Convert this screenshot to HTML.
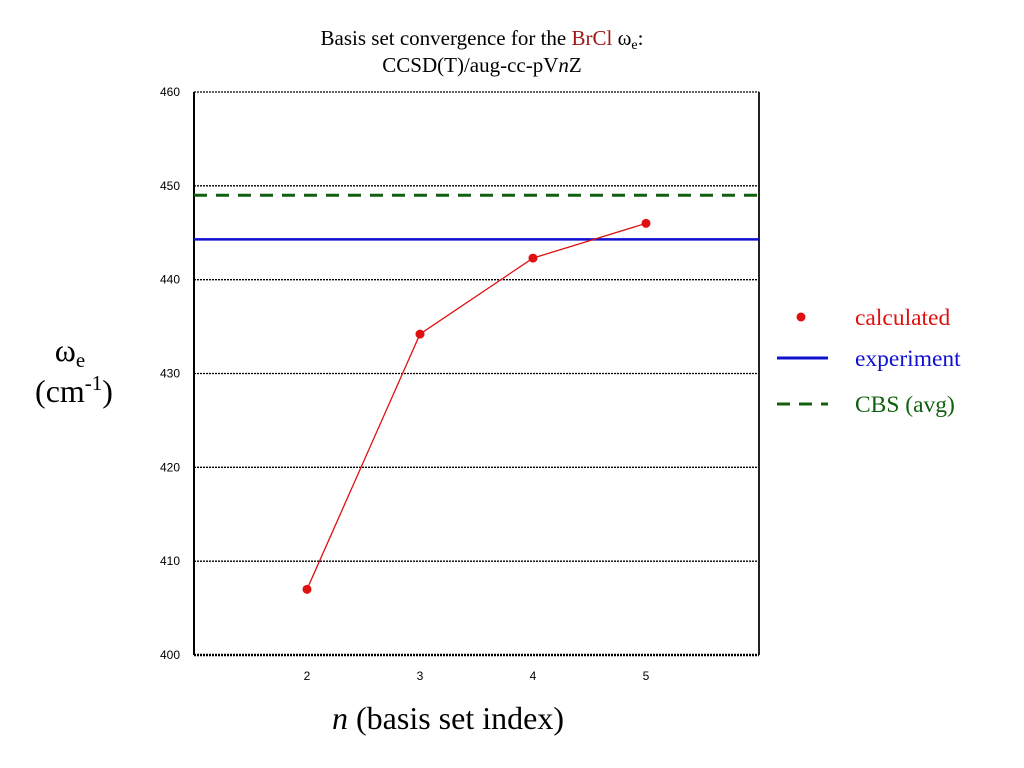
<!DOCTYPE html>
<html><head><meta charset="utf-8"><style>
body{margin:0;background:#fff;}
svg{display:block;}
</style></head><body>
<svg width="1024" height="768" xmlns="http://www.w3.org/2000/svg">
<g id="grid"></g>
<line x1="194" y1="92" x2="194" y2="655" stroke="#000" stroke-width="2"/>
<line x1="759" y1="92" x2="759" y2="655" stroke="#222" stroke-width="2"/>
<g id="yticks" font-family="Liberation Sans, sans-serif" font-size="12" text-anchor="end"></g>
<g id="xticks" font-family="Liberation Sans, sans-serif" font-size="12" text-anchor="middle"></g>
<g id="series"></g>
<g font-family="Liberation Serif, serif">
<text x="482" y="45" font-size="21" text-anchor="middle">Basis set convergence for the <tspan fill="#a01818">BrCl</tspan> ω<tspan font-size="14" dy="4">e</tspan><tspan dy="-4">:</tspan></text>
<text x="482" y="72" font-size="21" text-anchor="middle">CCSD(T)/aug-cc-pV<tspan font-style="italic">n</tspan>Z</text>
<text x="448" y="729" font-size="32" text-anchor="middle"><tspan font-style="italic">n</tspan> (basis set index)</text>
<text x="70" y="361" font-size="32" text-anchor="middle">ω<tspan font-size="21" dy="6">e</tspan></text>
<text x="74" y="402" font-size="32" text-anchor="middle">(cm<tspan font-size="21" dy="-12">-1</tspan><tspan dy="12">)</tspan></text>
</g>
<g font-family="Liberation Serif, serif" font-size="23.5">
<circle cx="801" cy="317" r="4.5" fill="#e01010"/>
<text x="855" y="325" fill="#e01010">calculated</text>
<line x1="777" y1="358" x2="828" y2="358" stroke="#1010d0" stroke-width="3"/>
<text x="855" y="366" fill="#1010d0">experiment</text>
<line x1="777" y1="404" x2="828" y2="404" stroke="#106010" stroke-width="3" stroke-dasharray="13,9"/>
<text x="855" y="412" fill="#106010">CBS (avg)</text>
</g>
</svg>
<script>
const nValues=[2,3,4,5];
const calcValues=[407.0,434.2,442.3,446.0];
const experimentValue=[444.3];
const cbsValue=[449.0];
const yTicks=[400,410,420,430,440,450,460];
const xTicks=[2,3,4,5];
const NS="http://www.w3.org/2000/svg";
const X0=194,X1=759,Y0=655,Y1=92;
const xs=v=>X0+(v-1)/(6-1)*(X1-X0);
const ys=v=>Y0-(v-400)/(460-400)*(Y0-Y1);
function mk(tag,attrs,parent){const e=document.createElementNS(NS,tag);for(const k in attrs)e.setAttribute(k,attrs[k]);parent.appendChild(e);return e;}
const grid=document.getElementById('grid'),yt=document.getElementById('yticks'),xt=document.getElementById('xticks'),ser=document.getElementById('series');
yTicks.forEach(t=>{
  const l=mk('line',{x1:X0,x2:X1,y1:ys(t),y2:ys(t),stroke:'#000','stroke-width':(t===400?2.5:1.3),'stroke-dasharray':'2,1'},grid);
  
  
  const tx=mk('text',{x:180,y:ys(t)+4},yt);tx.textContent=t;
  
  
});
xTicks.forEach(t=>{
  const tx=mk('text',{x:xs(t),y:680},xt);tx.textContent=t;
  
  
});
const cbs=mk('line',{x1:X0,x2:X1,y1:ys(cbsValue[0]),y2:ys(cbsValue[0]),stroke:'#106010','stroke-width':3,'stroke-dasharray':'13,9'},ser);


const ex=mk('line',{x1:X0,x2:X1,y1:ys(experimentValue[0]),y2:ys(experimentValue[0]),stroke:'#1010d0','stroke-width':2.5},ser);


const pl=mk('polyline',{points:nValues.map((n,i)=>xs(n)+','+ys(calcValues[i])).join(' '),fill:'none',stroke:'#e01010','stroke-width':1.3},ser);


nValues.forEach((n,i)=>{
  const c=mk('circle',{cx:xs(n),cy:ys(calcValues[i]),r:4.5,fill:'#e01010'},ser);
  
  
});
</script>
</body></html>
